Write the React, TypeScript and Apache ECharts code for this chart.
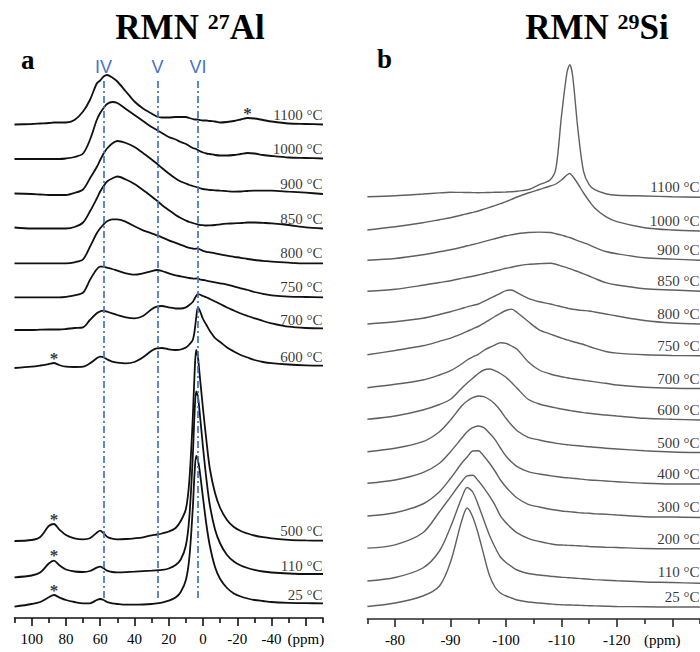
import React, { useEffect, useRef } from 'react';
import * as echarts from 'echarts';

const SERIF = '"Liberation Serif", "Times New Roman", serif';
const SANS = '"Liberation Sans", Arial, sans-serif';

// ---------- Panel a : 27Al ----------
const PPM_A = [110, 100, 95, 90, 87, 84, 80, 75, 70, 66, 62, 60, 58, 56, 53, 50, 45, 40, 35, 30, 27, 24, 20, 16, 13, 10, 8, 6, 5, 4, 3, 2, 0, -2, -4, -7, -10, -14, -18, -22, -26, -30, -35, -40, -50, -60, -70];
const AL_LABELS = ['1100 °C', '1000 °C', '900 °C', '850 °C', '800 °C', '750 °C', '700 °C', '600 °C', '500 °C', '110 °C', '25 °C'];
const AL_OFFSETS = [493.5, 459, 424, 389.5, 354.7, 320.7, 288, 251, 77, 42.5, 13];
const AL_1100 = [0, 0.5, 1, 1.5, 2, 2, 2, 4.5, 13, 24.5, 41, 44, 48, 49.5, 47, 43, 33, 23, 16, 11, 8, 7, 7, 7.5, 7.5, 7.5, 6.5, 5.5, 5, 5, 5, 4.5, 4, 4, 3.5, 3, 2, 2.5, 3.5, 5, 6.5, 6, 4.5, 3, 1, 0.5, 0];
const AL_1000 = [0, 0, 0, 0, 0, 0, 0.5, 2, 5.5, 19, 39, 46, 51, 55, 57, 56, 50, 44, 38, 32, 29, 26, 22, 19.5, 17, 15, 13, 11, 10.5, 10, 9, 8, 6.5, 5.5, 5, 4, 3.5, 3.5, 4, 5, 6, 5.5, 4, 3, 1.5, 1, 0.5];
const AL_900 = [0.5, 0, -0.5, -1, -1, -1, -1, 1, 4.5, 15.5, 27, 34, 40.5, 45.5, 50.5, 53, 51, 47, 41, 34.5, 30.5, 26, 20.5, 15.5, 12.5, 10.5, 9, 8, 7.5, 7, 6.5, 6, 5, 4.5, 4, 3.7, 3.3, 2.8, 2.4, 2.5, 3, 3.3, 3.3, 3.3, 2.3, 1.3, 0];
const AL_850 = [1, 0, 0, 0, 0, 0, 0, 1.5, 6, 17, 30, 37, 42.5, 47, 50, 52, 49, 44.5, 38.5, 32, 28, 23.5, 18.5, 13.5, 10.5, 8, 6.5, 5.5, 5, 4.5, 4, 3.7, 3.3, 3, 3.1, 3.5, 4.2, 4.8, 5.1, 5.5, 6, 6, 5.6, 5.2, 3.5, 1.2, 0];
const AL_800 = [0, 0, 0, 0, 0, 0, 0, 1, 4, 16.5, 30, 35, 39, 42, 44, 44, 41.5, 37, 33, 30, 28, 26, 23, 20.5, 18.5, 16.5, 15.5, 14.8, 14.5, 14.6, 15, 14, 12.5, 11.5, 11, 10, 9, 7.6, 6.5, 5.5, 4.3, 3.3, 2.5, 1.6, 0.6, 0, 0];
const AL_750 = [0, 0, 0, 0, 0, 0, 0.5, 2, 4.6, 17.3, 28, 30.6, 30.6, 29.6, 28.3, 26.6, 24, 22.6, 24, 26.3, 27.3, 26.3, 24, 22, 21, 20, 19.3, 18.8, 18.6, 18.8, 19, 18, 17.3, 16.6, 16, 15, 14, 12.7, 11, 9, 7.3, 5.3, 3.5, 2, 0.6, 0.3, 0];
const AL_700 = [0, 0, 0.3, 0.5, 0.5, 0.5, 1, 2, 2.7, 10, 16.7, 18.7, 19.3, 18.3, 16.7, 15, 12.7, 11.7, 14, 20.7, 23.3, 24, 22.7, 21.5, 21.5, 22.7, 25, 28, 31, 34, 36, 35.5, 34, 32.7, 31, 28.5, 26, 22.5, 19.5, 16.5, 14, 11.7, 9, 6.7, 3.3, 2, 1.7];
const AL_600 = [-1, 0.3, 1.5, 3, 4, 2, 0.3, 0, 0.3, 3.7, 8.7, 10.3, 9.7, 7.7, 5.3, 4.3, 3.7, 5, 9.7, 16.3, 18.7, 19, 17.7, 17, 17.5, 19.5, 22.5, 27, 35, 49, 59.5, 57, 48, 42, 36, 29, 25, 19.5, 15.5, 12, 9.5, 7, 5, 3.8, 2.5, 1.7, 1.3];
const AL_500 = [0, 1, 4, 15, 17, 11.7, 6, 2.7, 1.7, 2.7, 8.3, 10.3, 7.7, 4.3, 2.3, 1.7, 2, 2.7, 3.7, 5.7, 6.5, 7.5, 9.5, 13, 20, 32, 60, 122, 165, 191, 184, 167, 132, 100, 72, 48, 33, 21, 14, 10, 7.5, 5.5, 3.8, 2.7, 1.2, 0.6, 0.3];
const AL_110 = [-1.8, 0, 3, 12, 14.8, 10.5, 6, 4, 3.5, 4.5, 7.8, 8.8, 7.2, 4.8, 3.5, 3.2, 3.4, 3.8, 4.3, 4.8, 5.2, 5.6, 7, 10.5, 16, 30, 58, 118, 160, 184, 179, 164, 128, 96, 70, 46, 32, 20.5, 14, 10, 7.5, 5.7, 4, 3, 2, 1.5, 1.5];
const AL_25 = [-1.7, 1, 3, 7.7, 10, 7.7, 5, 3, 1.7, 1.7, 5, 6, 5, 3, 1.7, 1, 0.3, 0.3, 0.5, 1, 1.7, 2.3, 4.3, 7.5, 13, 25, 47, 96, 130, 149, 145, 135, 107, 80, 59, 38, 26, 17, 11.5, 8.5, 6.5, 5, 4, 3, 2.2, 1.8, 1.7];
const AL_SPECTRA = [AL_1100, AL_1000, AL_900, AL_850, AL_800, AL_750, AL_700, AL_600, AL_500, AL_110, AL_25];

const ROMAN = ['IV', 'V', 'VI'];
const ROMAN_PPM = [58, 26.5, 3];
const STAR_SPECTRUM = [0, 7, 8, 9, 10];
const STAR_PPM = [-26, 87, 87, 87, 87];

const A_TICKS_MAJOR = [100, 80, 60, 40, 20, 0, -20, -40, -60];
const A_TICKS_MINOR = [110, 90, 70, 50, 30, 10, -10, -30, -50, -70];
const A_TICK_LABELS = [100, 80, 60, 40, 20, 0, -20, -40, -60];

// ---------- Panel b : 29Si ----------
const PPM_B = [-75, -80, -85, -88, -90, -92, -93, -94, -95, -96, -97, -98, -99, -100, -101, -102, -104, -106, -108, -109, -110, -111, -111.5, -112, -113, -114, -115, -116, -118, -120, -125, -130, -135];
const SI_LABELS = ['1100 °C', '1000 °C', '900 °C', '850 °C', '800 °C', '750 °C', '700 °C', '600 °C', '500 °C', '400 °C', '300 °C', '200 °C', '110 °C', '25 °C'];
const SI_OFFSETS = [422.3, 388, 358.7, 327.8, 295, 263.2, 230.5, 199, 166.5, 135, 102, 70.2, 37, 12];
const SI_1100 = [0, 1, 2.7, 3.8, 4.4, 4.3, 4.2, 4.1, 4, 4.1, 4.2, 4.4, 4.5, 4.7, 5, 5.5, 7, 12, 17, 28, 80, 124, 132, 122, 66, 25, 12, 7, 3, 1.5, 0.7, 0, -0.5];
const SI_1000 = [1, 4.3, 8.3, 11.3, 13.3, 16, 17.3, 18.6, 20, 21.8, 23.6, 25.4, 27.3, 29.3, 31.6, 34, 38, 41.5, 45, 47, 51, 56, 57.5, 55, 47, 38, 30, 23, 14.3, 9.3, 3.3, 1, 0];
const SI_900 = [0, 1.8, 5.5, 8.5, 10.5, 13, 14.5, 15.8, 17.2, 18.7, 20.2, 21.6, 23, 24.5, 25.5, 26.5, 27.8, 28.2, 27.8, 26.6, 25.2, 23.5, 22.8, 21.8, 19.5, 17.5, 15.5, 13, 8.8, 6.5, 2.5, 1.2, 0];
const SI_850 = [0, 1.9, 5.9, 8.7, 10.5, 12.8, 14, 15, 16.2, 17.5, 18.8, 20.2, 21.5, 22.9, 24, 25.2, 26.8, 27.5, 27.9, 27, 25.2, 23.5, 22.6, 21.5, 19.5, 17.4, 15.2, 12.8, 8.5, 6.2, 2.5, 1.2, 0];
const SI_800 = [0, 2.3, 5.7, 9.5, 12.3, 15.5, 17.2, 18.6, 20, 22.6, 25.3, 28, 30.7, 33.3, 34, 31.3, 25.7, 22.3, 20, 18.6, 17.3, 16, 15.3, 14.7, 14, 13.5, 13, 12, 10, 8, 3.5, 1, 0];
const SI_750 = [1, 5.3, 10, 14.5, 17.7, 22, 24.5, 27, 29.3, 32.5, 36, 39.3, 42.5, 45.3, 46.7, 43.3, 34.3, 26, 21.7, 19.7, 17.7, 16, 15.2, 14.3, 12.8, 11.3, 9.3, 7.5, 4.3, 2.7, 1, 0.3, 0];
const SI_700 = [0.8, 4.2, 8.5, 13.5, 17.8, 24.5, 28.5, 31.5, 34.2, 38, 41, 43.5, 45.8, 45.2, 42.5, 39.2, 26.8, 18.5, 14.5, 13, 11.8, 10.8, 10.3, 9.8, 9, 8.2, 7.5, 6.6, 5.2, 3.5, 1.2, 0.2, 0];
const SI_600 = [0.7, 4, 10, 15.5, 20.7, 31.7, 37, 41.7, 46.5, 50, 51, 49.3, 46.5, 42.7, 37.5, 31.7, 20.7, 16, 13.3, 12.1, 11, 10, 9.5, 9, 8.2, 7.4, 6.7, 6, 5, 4, 1.7, 0.7, 0];
const SI_500 = [0.8, 4.2, 10.8, 20.8, 32.5, 46.5, 51.5, 54.8, 56.5, 55.8, 53, 48.5, 42, 34.2, 27.5, 21.8, 15.2, 12.5, 10.2, 9.3, 8.5, 7.8, 7.5, 7.2, 6.7, 6.2, 5.8, 5.2, 4.2, 3.5, 1.8, 0.5, 0];
const SI_400 = [0.7, 4, 11.3, 20.7, 32.3, 45.7, 52.3, 56.3, 58, 56.3, 51, 44.7, 36, 28, 22, 17.3, 12.3, 10, 8.3, 7.5, 6.7, 6.2, 6, 5.7, 5.2, 4.6, 4, 3.7, 3, 2.3, 0.7, 0, 0];
const SI_300 = [1, 4.3, 13, 25.3, 38.7, 53.7, 60, 66, 66.3, 61, 54, 46, 37, 30, 24, 19, 12.7, 10, 7.7, 7, 6, 5.5, 5.2, 5, 4.4, 4, 3.7, 3.3, 2.7, 2, 0.3, 0, -0.5];
const SI_200 = [0.7, 4, 16, 37, 52, 67, 73, 73.5, 68, 61, 53, 44, 33, 26, 20.5, 16, 10.5, 7.3, 5, 4, 3.8, 3.5, 3.4, 3.3, 3, 2.7, 2.3, 2, 1.6, 1.3, 0.3, 0, 0];
const SI_110 = [1, 4.5, 14, 31, 55, 84, 94.5, 90, 77, 62, 47, 35, 25, 19.5, 15.5, 12, 8.5, 7, 5.8, 5.3, 4.8, 4.4, 4.2, 4, 3.6, 3.2, 2.8, 2.4, 1.8, 1.2, 0, -0.5, -1.3];
const SI_25 = [0.5, 4, 11, 21, 45, 86, 99, 90, 73, 52, 32, 20, 14, 11, 9, 7, 5, 4, 3, 2.5, 2.3, 2, 2, 1.9, 1.7, 1.5, 1.3, 1.1, 0.8, 0.5, 0.2, 0, 0];
const SI_SPECTRA = [SI_1100, SI_1000, SI_900, SI_850, SI_800, SI_750, SI_700, SI_600, SI_500, SI_400, SI_300, SI_200, SI_110, SI_25];

const B_TICKS_MAJOR = [-80, -90, -100, -110, -120, -130];
const B_TICKS_MINOR = [-75, -85, -95, -105, -115, -125, -135];
const B_TICK_LABELS = [-80, -90, -100, -110, -120, -130];

export default function App() {
  const ref = useRef<HTMLDivElement>(null);

  useEffect(() => {
    document.body.style.margin = '0';
    const chart = echarts.init(ref.current!, null, { renderer: 'svg' });

    const AXIS_A_COLOR = '#111111';
    const AXIS_B_COLOR = '#2a2a2a';
    const BLUE = '#4473c5';
    const LABEL_DY = 10;

    const tickLabelStyle = {
      fontFamily: SERIF,
      fontSize: 15,
      color: '#000',
      margin: 13,
    };

    const xAxes: any[] = [
      {
        gridIndex: 0, type: 'value', min: -70, max: 110, inverse: true, position: 'bottom',
        axisLine: { onZero: false, lineStyle: { color: AXIS_A_COLOR, width: 1.6 } },
        axisTick: { customValues: A_TICKS_MAJOR, length: 8, lineStyle: { color: AXIS_A_COLOR, width: 1.6 } },
        axisLabel: {
          ...tickLabelStyle,
          customValues: A_TICK_LABELS,
          formatter: (v: number) => (v === -60 ? '(ppm)' : String(v)),
        },
        splitLine: { show: false },
      },
      {
        gridIndex: 0, type: 'value', min: -70, max: 110, inverse: true, position: 'bottom',
        axisLine: { show: false, onZero: false },
        axisTick: { customValues: A_TICKS_MINOR, length: 5, lineStyle: { color: AXIS_A_COLOR, width: 1.6 } },
        axisLabel: { show: false },
        splitLine: { show: false },
      },
      {
        gridIndex: 1, type: 'value', min: -135, max: -75, inverse: true, position: 'bottom',
        axisLine: { onZero: false, lineStyle: { color: AXIS_B_COLOR, width: 1.6 } },
        axisTick: { customValues: B_TICKS_MAJOR, length: 8, lineStyle: { color: AXIS_B_COLOR, width: 1.6 } },
        axisLabel: {
          ...tickLabelStyle,
          customValues: B_TICK_LABELS,
          formatter: (v: number) => (v === -130 ? '{p|(ppm)}' : String(v)),
          rich: { p: { fontFamily: SERIF, fontSize: 15, color: '#000', padding: [0, 20, 0, 0] } },
        },
        splitLine: { show: false },
      },
      {
        gridIndex: 1, type: 'value', min: -135, max: -75, inverse: true, position: 'bottom',
        axisLine: { show: false, onZero: false },
        axisTick: { customValues: B_TICKS_MINOR, length: 5, lineStyle: { color: AXIS_B_COLOR, width: 1.6 } },
        axisLabel: { show: false },
        splitLine: { show: false },
      },
    ];

    const yAxes: any[] = [
      { gridIndex: 0, type: 'value', min: 0, max: 558, show: false },
      { gridIndex: 1, type: 'value', min: 0, max: 559, show: false },
    ];

    const series: any[] = [];

    AL_SPECTRA.forEach((vals, i) => {
      const s: any = {
        type: 'line',
        name: 'Al ' + AL_LABELS[i],
        xAxisIndex: 0,
        yAxisIndex: 0,
        showSymbol: false,
        smooth: 0.3,
        silent: true,
        lineStyle: { color: '#111111', width: 1.8 },
        data: PPM_A.map((p, k) => [p, AL_OFFSETS[i] + vals[k]]),
      };
      if (i === 0) {
        s.markLine = {
          silent: true,
          symbol: 'none',
          animation: false,
          lineStyle: { color: BLUE, width: 1.7, type: [7, 3, 2, 3] },
          label: {
            show: true,
            position: 'end',
            formatter: '{b}',
            color: BLUE,
            fontFamily: SANS,
            fontSize: 18,
            distance: 4,
          },
          data: ROMAN_PPM.map((p, k) => [
            { name: ROMAN[k], coord: [p, 20] },
            { coord: [p, 538] },
          ]),
        };
      }
      series.push(s);
    });

    SI_SPECTRA.forEach((vals, i) => {
      series.push({
        type: 'line',
        name: 'Si ' + SI_LABELS[i],
        xAxisIndex: 2,
        yAxisIndex: 1,
        showSymbol: false,
        smooth: 0.3,
        silent: true,
        lineStyle: { color: '#606060', width: 1.4 },
        data: PPM_B.map((p, k) => [p, SI_OFFSETS[i] + vals[k]]),
      });
    });

    const labelSeries = (xIdx: number, yIdx: number, xEnd: number, labels: string[], offsets: number[]) => ({
      type: 'scatter',
      xAxisIndex: xIdx,
      yAxisIndex: yIdx,
      symbol: 'circle',
      symbolSize: 1,
      silent: true,
      itemStyle: { color: 'rgba(0,0,0,0)' },
      label: {
        show: true,
        position: 'left',
        distance: 0,
        formatter: '{b}',
        fontFamily: SERIF,
        fontSize: 15,
        color: '#000',
      },
      data: labels.map((t, i) => ({ name: t, value: [xEnd, offsets[i] + LABEL_DY] })),
    });

    series.push(labelSeries(0, 0, -70, AL_LABELS, AL_OFFSETS));
    series.push(labelSeries(2, 1, -135, SI_LABELS, SI_OFFSETS));

    series.push({
      type: 'scatter',
      xAxisIndex: 0,
      yAxisIndex: 0,
      symbol: 'circle',
      symbolSize: 1,
      silent: true,
      itemStyle: { color: 'rgba(0,0,0,0)' },
      label: {
        show: true,
        position: 'inside',
        formatter: '*',
        fontFamily: SERIF,
        fontWeight: 'bold',
        fontSize: 17,
        color: '#000',
      },
      data: STAR_PPM.map((p, k) => {
        const si = STAR_SPECTRUM[k];
        const idx = PPM_A.indexOf(p);
        return [p, AL_OFFSETS[si] + AL_SPECTRA[si][idx] + 5];
      }),
    });

    const titleRich = (sup: string, rest: string, cx: number) => ({
      type: 'text',
      x: cx,
      y: 27,
      silent: true,
      style: {
        text: `{m|RMN }{s|${sup}}{m|${rest}}`,
        align: 'center',
        verticalAlign: 'middle',
        rich: {
          m: { fontFamily: SERIF, fontWeight: 'bold', fontSize: 35, lineHeight: 38, fill: '#000' },
          s: { fontFamily: SERIF, fontWeight: 'bold', fontSize: 22, lineHeight: 38, fill: '#000', verticalAlign: 'top', padding: [2, 0, 0, 0] },
        },
      },
    });

    chart.setOption({
      animation: false,
      backgroundColor: '#ffffff',
      grid: [
        { left: 14.5, right: 377, top: 60, bottom: 34 },
        { left: 367.4, right: -7, top: 60, bottom: 33 },
      ],
      xAxis: xAxes,
      yAxis: yAxes,
      series,
      graphic: [
        titleRich('27', 'Al', 190),
        titleRich('29', 'Si', 597),
        {
          type: 'text', x: 21, y: 60, silent: true,
          style: { text: 'a', fontFamily: SERIF, fontWeight: 'bold', fontSize: 27, fill: '#000', verticalAlign: 'middle' },
        },
        {
          type: 'text', x: 377, y: 59, silent: true,
          style: { text: 'b', fontFamily: SERIF, fontWeight: 'bold', fontSize: 27, fill: '#000', verticalAlign: 'middle' },
        },
      ],
    });

    return () => chart.dispose();
  }, []);

  return <div ref={ref} style={{ width: 700, height: 652 }} />;
}
